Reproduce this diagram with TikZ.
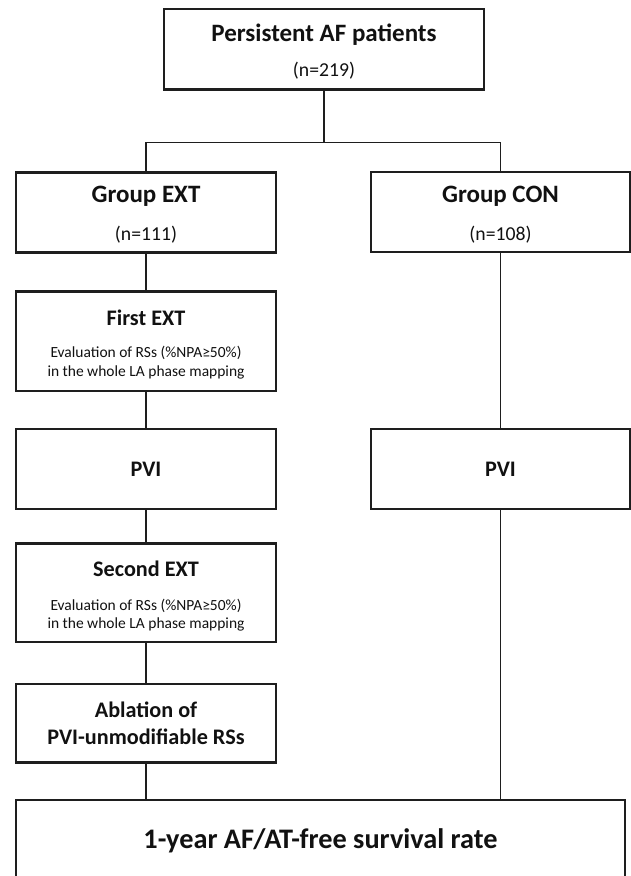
\documentclass[tikz,border=0pt]{standalone}
\usepackage{fontspec}
\setmainfont{Carlito}
\definecolor{linec}{HTML}{1E1E1E}
\definecolor{textc}{HTML}{111111}
\begin{document}
\begin{tikzpicture}[x=1pt,y=-1pt,
  box/.style={draw=linec, line width=2.4pt, fill=white, inner sep=0pt, rectangle},
  conn/.style={draw=linec, line width=1.6pt},
  txt/.style={anchor=base, inner sep=0pt, text=textc},
  big/.style={txt, font=\bfseries\fontsize{25}{30}\selectfont},
  mid/.style={txt, font=\bfseries\fontsize{22.2}{27}\selectfont},
  cnt/.style={txt, font=\fontsize{19.7}{24}\selectfont},
  small/.style={txt, font=\fontsize{15.5}{19}\selectfont}]
\path[use as bounding box] (0,0) rectangle (631,876);
\clip (0,0) rectangle (631,876);
% boxes
\node[box, minimum width=320pt, minimum height=80.3pt] (top) at (324,49.15) {};
\node[box, minimum width=260pt, minimum height=80pt] (ext) at (146,212.3) {};
\node[box, minimum width=259pt, minimum height=80pt] (con) at (500.5,212) {};
\node[box, minimum width=260pt, minimum height=99.3pt] (first) at (146,341.3) {};
\node[box, minimum width=260pt, minimum height=80pt] (pvil) at (146,469) {};
\node[box, minimum width=259pt, minimum height=80pt] (pvir) at (500.5,469) {};
\node[box, minimum width=260pt, minimum height=98.4pt] (second) at (146,592.5) {};
\node[box, minimum width=260pt, minimum height=78.6pt] (abl) at (146,723) {};
\node[box, minimum width=609pt, minimum height=100pt] (res) at (320.5,850) {};
% texts
\node[big] (t1) at (324,41.7) {Persistent AF patients};
\node[cnt] (t1n) at (324,76) {(n=219)};
\node[big] (t2) at (146,202.7) {Group EXT};
\node[cnt] (t2n) at (146,240.5) {(n=111)};
\node[big] (t3) at (500.5,202.7) {Group CON};
\node[cnt] (t3n) at (500.5,240) {(n=108)};
\node[mid] (t4) at (146,325) {First EXT};
\node[small] (t4a) at (146,357.3) {Evaluation of RSs (\%NPA≥50\%)};
\node[small] (t4b) at (146,376) {in the whole LA phase mapping};
\node[mid] (t5) at (146,476.7) {PVI};
\node[mid] (t6) at (500.5,476.7) {PVI};
\node[mid] (t7) at (146,576) {Second EXT};
\node[small] (t7a) at (146,610) {Evaluation of RSs (\%NPA≥50\%)};
\node[small] (t7b) at (146,628.5) {in the whole LA phase mapping};
\node[mid] (t8a) at (146,717.7) {Ablation of};
\node[mid] (t8b) at (146,744.3) {PVI-unmodifiable RSs};
\node[txt, font=\bfseries\fontsize{28.3}{34}\selectfont] (t9) at (320.5,848.8) {1-year AF/AT-free survival rate};
% connectors
\coordinate (split) at (324,142.3);
\draw[conn] (top.south) -- (split);
\draw[conn] (ext.north) |- (split) -| (con.north);
\draw[conn] (ext.south) -- (first.north);
\draw[conn] (first.south) -- (pvil.north);
\draw[conn] (pvil.south) -- (second.north);
\draw[conn] (second.south) -- (abl.north);
\draw[conn] (abl.south) -- (abl.south |- res.north);
\draw[conn] (con.south) -- (pvir.north);
\draw[conn] (pvir.south) -- (pvir.south |- res.north);
\end{tikzpicture}
\end{document}
